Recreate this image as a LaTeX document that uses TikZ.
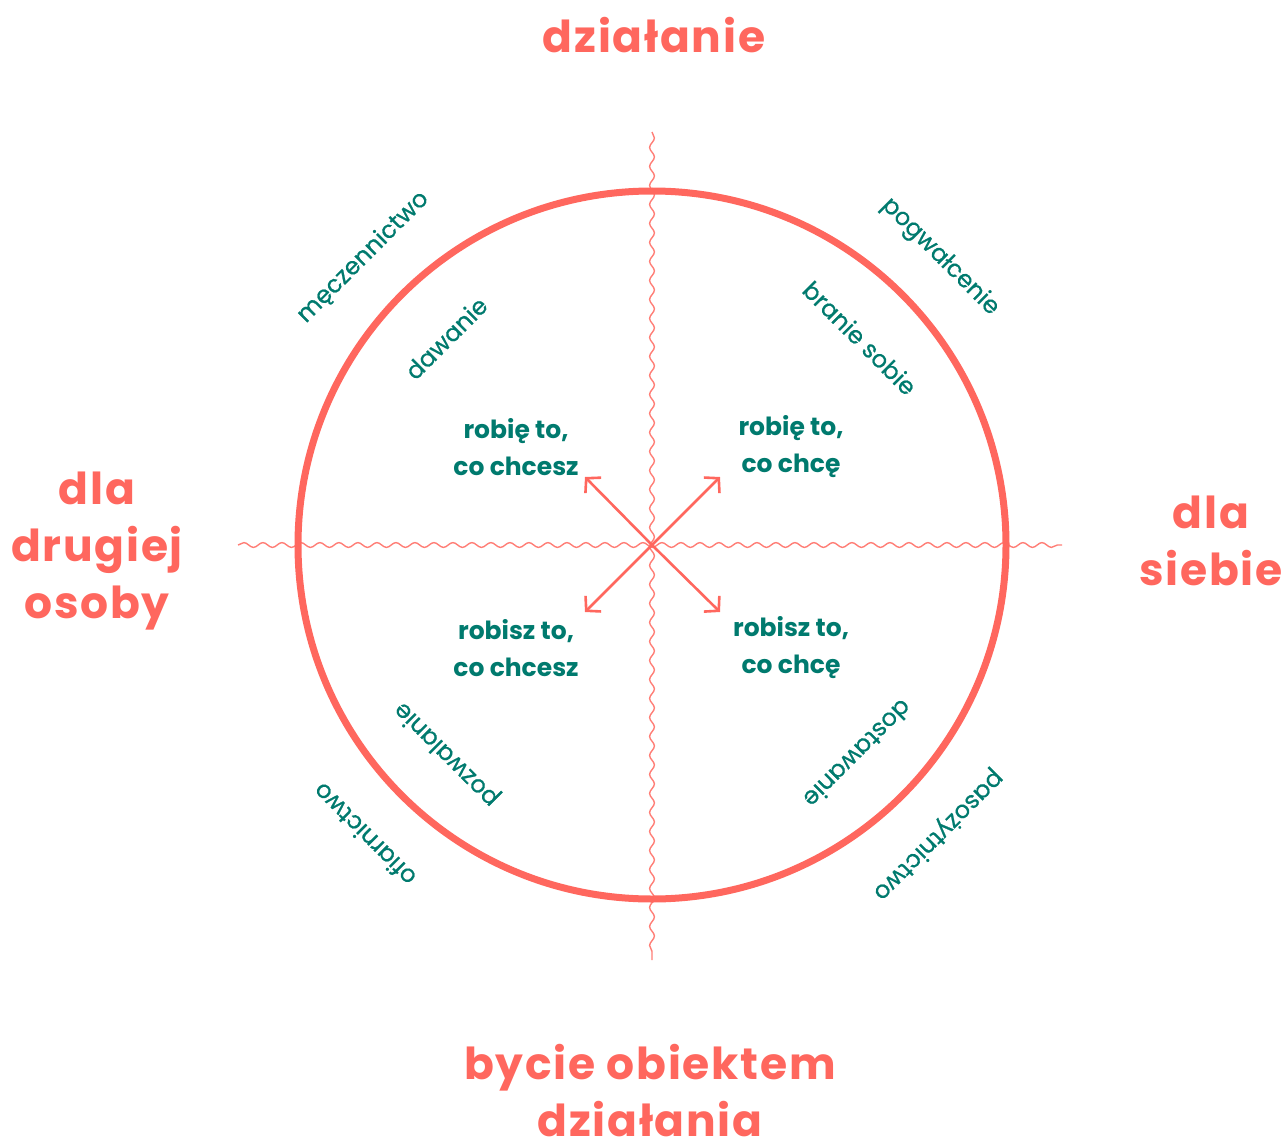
\documentclass[tikz,border=0pt]{standalone}
\usepackage{fontspec}
\setmainfont{Poppins}
\newfontfamily\headfont[LetterSpace=4]{Poppins}
\newfontfamily\lblfont[FakeBold=0.7]{Poppins}
\usetikzlibrary{arrows.meta,decorations.pathmorphing}
\definecolor{salmon}{RGB}{255,103,94}
\definecolor{teal}{RGB}{0,122,110}
\tikzset{
  head/.style={text=salmon,font=\headfont\fontsize{44}{57}\selectfont\bfseries,align=center,inner sep=0pt},
  phrase/.style={text=teal,font=\fontsize{25}{37}\selectfont\bfseries,align=center,inner sep=0pt},
  lbl/.style={text=teal,font=\lblfont\fontsize{24}{28}\selectfont,inner sep=0pt},
  wave/.style={draw=salmon!85,line width=1.4pt,decorate,decoration={snake,segment length=19pt,amplitude=2.4pt}},
  ring/.style={draw=salmon,line width=7pt},
  ray/.style={draw=salmon,line width=2.6pt,-{Straight Barb[length=10pt,width=22pt]}}
}
\begin{document}
\begin{tikzpicture}[x=1pt,y=-1pt]
\useasboundingbox (0,0) rectangle (1284,1142);
\coordinate (c) at (652,545);
\coordinate (vt) at (652,132);
\coordinate (vb) at (652,960);
\coordinate (hl) at (238,545);
\coordinate (hr) at (1062,545);
\draw[wave] (vt) -- (vb);
\draw[wave] (hl) -- (hr);
\draw[ring] (c) circle[radius=354];
\coordinate (a1) at (585,477);
\coordinate (a2) at (720,477);
\coordinate (a3) at (585,612);
\coordinate (a4) at (720,612);
\draw[ray] (c) -- (a1);
\draw[ray] (c) -- (a2);
\draw[ray] (c) -- (a3);
\draw[ray] (c) -- (a4);
\node[head] (top) at (654,35) {działanie};
\node[head] (left) at (97,551) {dla\\drugiej\\osoby};
\node[head] (right) at (1211,541) {dla\\siebie};
\node[head] (bottom) at (650,1091) {bycie obiektem\\działania};
\node[phrase] (p1) at (516,447) {robię to,\\co chcesz};
\node[phrase] (p2) at (791,447) {robię to,\\co chcę};
\node[phrase] (p3) at (516,648) {robisz to,\\co chcesz};
\node[phrase] (p4) at (791,648) {robisz to,\\co chcę};
\node[lbl,rotate=45] (l1) at (363,257) {męczennictwo};
\node[lbl,rotate=45] (l2) at (446,338) {dawanie};
\node[lbl,rotate=-45] (l3) at (940,257) {pogwałcenie};
\node[lbl,rotate=-45] (l4) at (860,338) {branie sobie};
\node[lbl,rotate=135] (l5) at (447,754) {pozwalanie};
\node[lbl,rotate=135] (l6) at (364,835) {ofiarnictwo};
\node[lbl,rotate=-135] (l7) at (858,754) {dostawanie};
\node[lbl,rotate=-135] (l8) at (938,835) {pasożytnictwo};
\end{tikzpicture}
\end{document}
